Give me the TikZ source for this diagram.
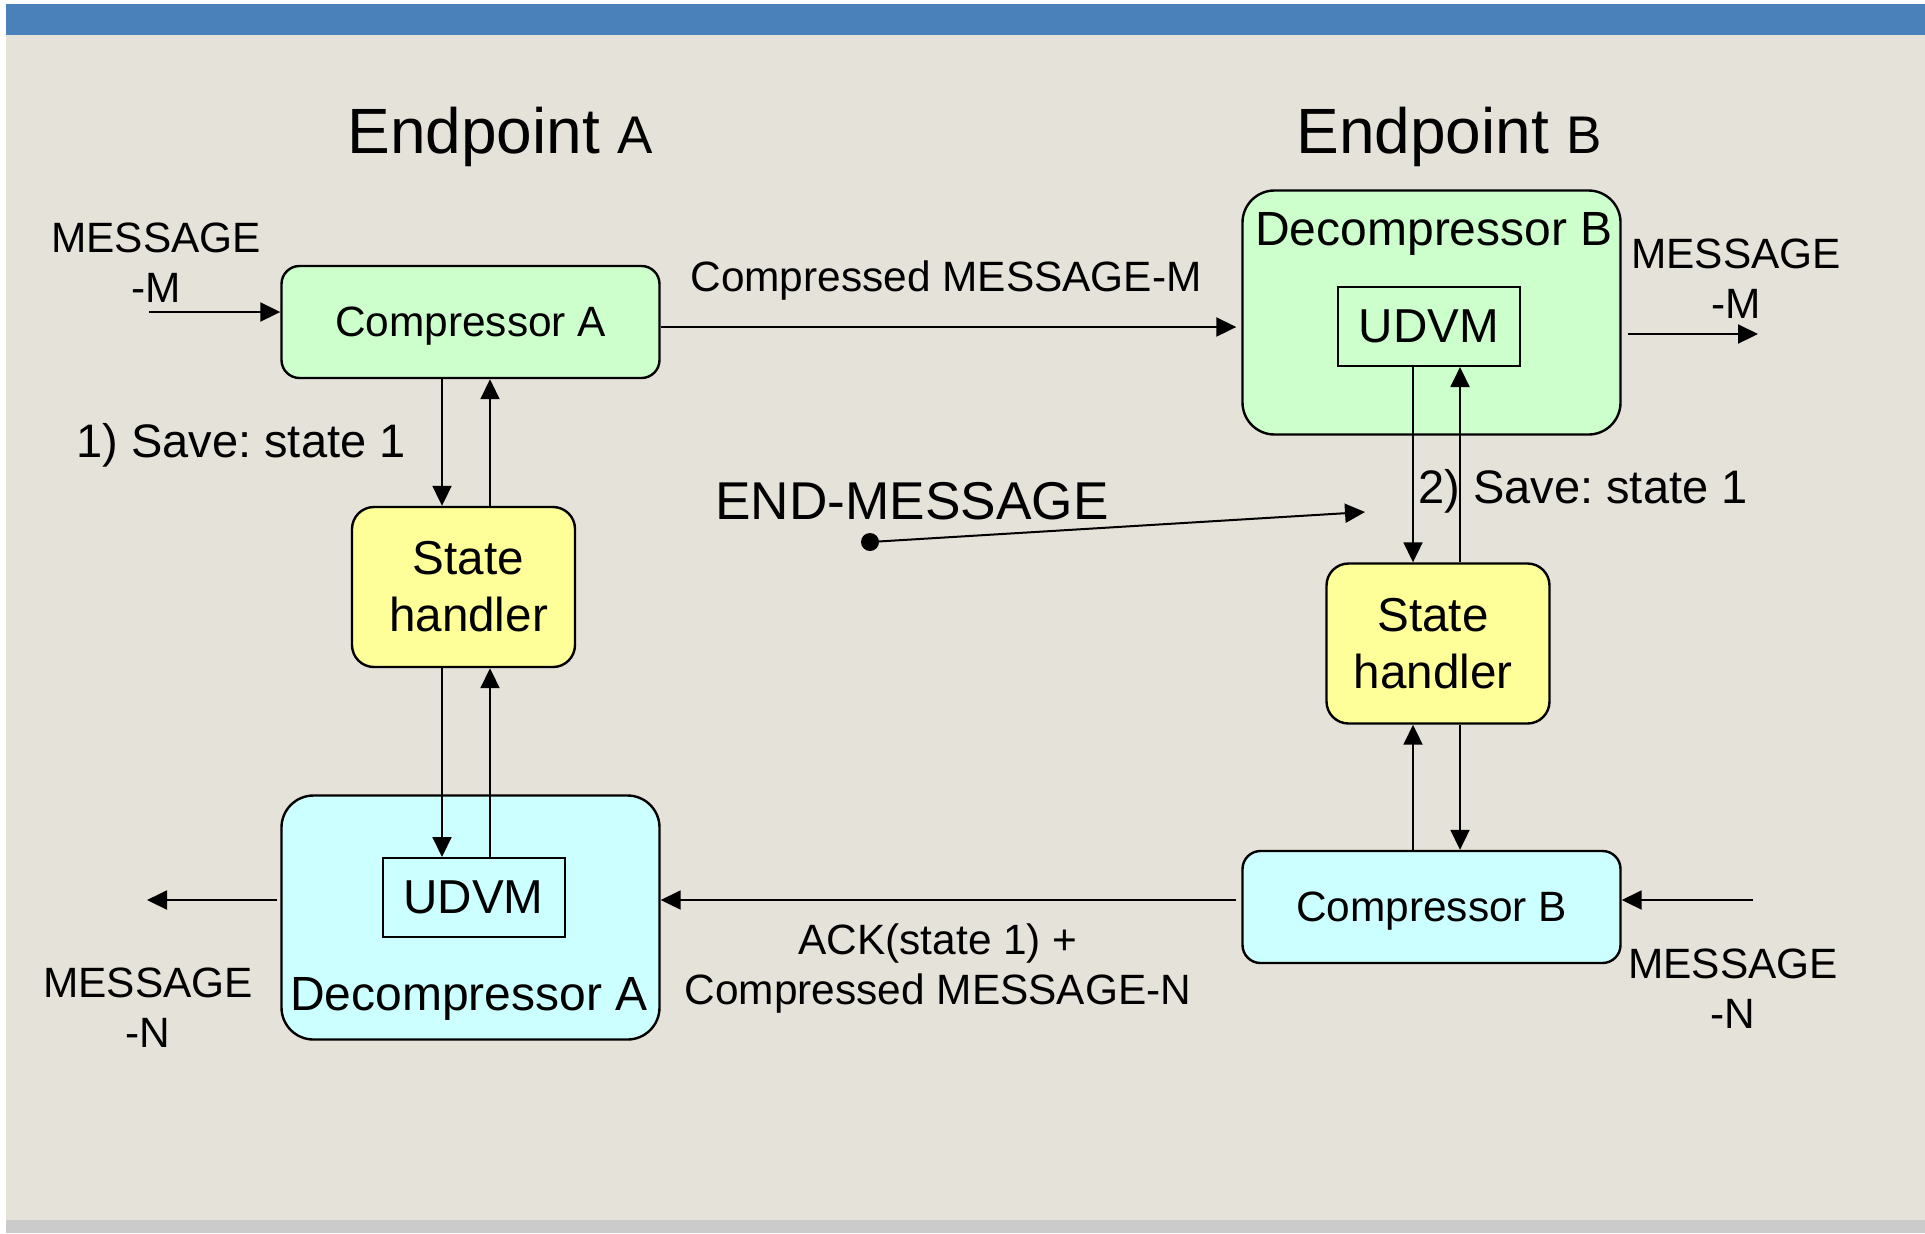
\documentclass[tikz,border=0pt]{standalone}
\usepackage{fontspec}
\setmainfont{Liberation Sans}
\usetikzlibrary{arrows.meta}
\definecolor{bg}{HTML}{E5E2DA}
\definecolor{topbar}{HTML}{4B81BA}
\definecolor{botbar}{HTML}{CBCBCB}
\definecolor{gfill}{HTML}{CCFFCC}
\definecolor{yfill}{HTML}{FFFF99}
\definecolor{cfill}{HTML}{CCFFFF}
\frenchspacing
\begin{document}
\begin{tikzpicture}[x=0.5pt,y=-0.5pt,
  box/.style={draw=black,line width=1.2pt,inner sep=0pt,align=center},
  compbox/.style={box,rounded corners=9pt,minimum width=189pt,minimum height=56pt,text depth=0pt,font=\fontsize{21.2}{25}\selectfont},
  decbox/.style={box,rounded corners=16pt,minimum width=189pt,minimum height=122pt},
  stbox/.style={box,fill=yfill,rounded corners=11pt,minimum width=111.5pt,minimum height=80pt,font=\fontsize{23.8}{28.5}\selectfont},
  udvmbox/.style={box,line width=1pt,minimum width=91pt,minimum height=39.5pt,font=\fontsize{23.8}{28}\selectfont},
  declbl/.style={anchor=base,inner sep=0pt,font=\fontsize{24}{28}\selectfont},
  lbl/.style={inner sep=0pt,align=center,font=\fontsize{21.2}{25}\selectfont},
  savelbl/.style={inner sep=0pt,anchor=base west,font=\fontsize{23.5}{27}\selectfont},
  ttl/.style={inner sep=0pt,anchor=base west,font=\fontsize{32}{38}\selectfont},
  arr/.style={line width=1pt,-{Triangle[length=10pt,width=9.5pt]}},
]
\useasboundingbox (0,0) rectangle (1925,1233);
\fill[white] (0,0) rectangle (1925,1233);
\fill[bg] (6,4) rectangle (1925,1220);
\fill[topbar] (6,4) rectangle (1925,35);
\fill[botbar] (6,1220) rectangle (1925,1233);

% titles
\node[ttl] (titleA) at (347,153) {Endpoint {\fontsize{26.5}{30}\selectfont A}};
\node[ttl] (titleB) at (1296,153) {Endpoint {\fontsize{26.5}{30}\selectfont B}};

% boxes
\node[compbox,fill=gfill] (compA) at (470.5,322) {Compressor A};
\node[decbox,fill=gfill] (decB) at (1431.5,312.5) {};
\node[declbl] (decBlbl) at (1434,245) {Decompressor B};
\node[udvmbox] (udvmB) at (1429,326.5) {UDVM};

\node[stbox] (stA) at (463.5,587) {\hspace{5pt}State\\\hspace{5pt}handler};
\node[stbox] (stB) at (1438,643.5) {\hspace{-5pt}State\\\hspace{-5pt}handler};

\node[decbox,fill=cfill] (decA) at (470.5,917.5) {};
\node[udvmbox] (udvmA) at (473.5,897.5) {UDVM};
\node[declbl] (decAlbl) at (469,1010) {Decompressor A};
\node[compbox,fill=cfill] (compB) at (1431.5,907) {Compressor B};

% labels (anchor base = last line)
\node[lbl,anchor=base] (mMl) at (156,302) {MESSAGE\\-M};
\node[lbl,anchor=base] (mMr) at (1736,318) {MESSAGE\\-M};
\node[lbl,anchor=base] (mNl) at (148,1047) {MESSAGE\\-N};
\node[lbl,anchor=base] (mNr) at (1733,1028) {MESSAGE\\-N};
\node[lbl,anchor=base west] (cmM) at (690,291) {Compressed MESSAGE-M};
\node[lbl,anchor=base] (ack) at (938,1004) {ACK(state 1) +\\Compressed MESSAGE-N};
\node[savelbl] (save1) at (76,457) {1) Save: state 1};
\node[savelbl] (save2) at (1418,503) {2) Save: state 1};
\node[inner sep=0pt,anchor=base west,font=\fontsize{26.6}{31}\selectfont] (endmsg) at (715,519) {END-MESSAGE};

% coordinates
\coordinate (xa1) at (442,0);
\coordinate (xa2) at (490,0);
\coordinate (xb1) at (1413,0);
\coordinate (xb2) at (1460,0);
\coordinate (ym) at (0,327);
\coordinate (yn) at (0,900);
\coordinate (minL) at (149,312);
\coordinate (moutR) at (1758,334);
\coordinate (ninR) at (1753,900);
\coordinate (noutL) at (147,900);
\coordinate (dot) at (870,542);
\coordinate (endtip) at (1365,512);

% vertical connectors
\draw[arr] (compA.south -| xa1) -- (stA.north -| xa1);
\draw[arr] (stA.north -| xa2) -- (compA.south -| xa2);
\draw[arr] (stA.south -| xa1) -- (udvmA.north -| xa1);
\draw[arr] (udvmA.north -| xa2) -- (stA.south -| xa2);
\draw[arr] (udvmB.south -| xb1) -- (stB.north -| xb1);
\draw[arr] (stB.north -| xb2) -- (udvmB.south -| xb2);
\draw[arr] (compB.north -| xb1) -- (stB.south -| xb1);
\draw[arr] (stB.south -| xb2) -- (compB.north -| xb2);

% horizontal connectors
\draw[arr,shorten >=2.5pt] (compA.east |- ym) -- (decB.west |- ym);
\draw[arr] ([xshift=-2.5pt]compB.west |- yn) -- (decA.east |- yn);
\draw[arr] (minL) -- (compA.west |- minL);
\draw[arr] ([xshift=3pt]decB.east |- moutR) -- (moutR);
\draw[arr] (ninR) -- (compB.east |- ninR);
\draw[arr] ([xshift=-1.5pt]decA.west |- noutL) -- (noutL);

% END-MESSAGE pointer
\draw[arr] (dot) -- (endtip);
\fill (dot) circle[radius=4.5pt];
\end{tikzpicture}
\end{document}
